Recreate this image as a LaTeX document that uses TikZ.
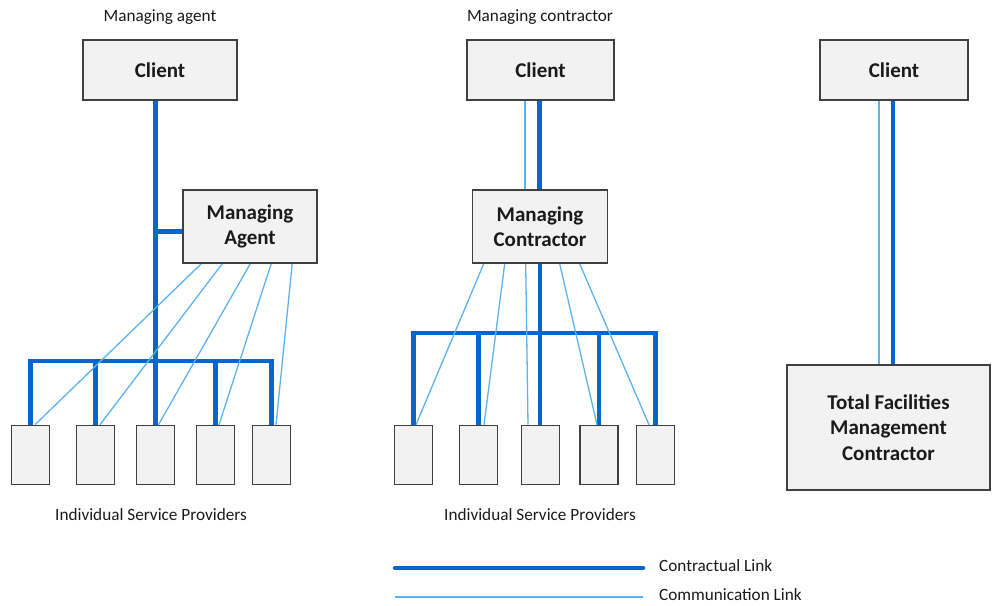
\documentclass[tikz,border=0pt]{standalone}
\usepackage{fontspec}
\setmainfont{Carlito}
\usetikzlibrary{calc,backgrounds}
\definecolor{cblue}{RGB}{6,102,204}
\definecolor{lblue}{RGB}{95,178,240}
\definecolor{boxfill}{RGB}{242,242,242}
\definecolor{boxline}{RGB}{64,64,64}
\definecolor{txt}{RGB}{26,26,26}
\begin{document}
\begin{tikzpicture}[x=1pt,y=-1pt,
 box/.style={draw=boxline,fill=boxfill,line width=1.6pt,inner sep=0pt,align=center,text=txt,font=\fontsize{21}{25.5}\selectfont\bfseries},
 prov/.style={draw=boxline,fill=boxfill,line width=1.6pt,minimum width=38pt,minimum height=59pt,inner sep=0pt},
 contract/.style={draw=cblue,line width=4.5pt},
 comm/.style={draw=lblue,line width=1.3pt},
 lab/.style={font=\fontsize{17.2}{20}\selectfont,text=txt,inner sep=1pt}]
\useasboundingbox (0,0) rectangle (993,605);
% ---------- panel 1 ----------
\node[lab] (t1) at (160,17) {Managing agent};
\node[box,minimum width=154pt,minimum height=60pt] (c1) at (160,70) {Client};
\node[box,minimum width=134pt,minimum height=73pt] (ma) at (250,226.5) {Managing\\Agent};
\foreach \i/\x in {1/30.5,2/95.5,3/155.5,4/215.5,5/271.5}
  \node[prov] (p1\i) at (\x,455) {};
\node[lab] (isp1) at (151,515) {Individual Service Providers};
\coordinate (bus1) at (0,361);
% ---------- panel 2 ----------
\node[lab] (t2) at (540,17) {Managing contractor};
\node[box,minimum width=147pt,minimum height=60pt] (c2) at (540.5,70) {Client};
\node[box,minimum width=135pt,minimum height=73pt] (mc) at (540,226.5) {Managing\\Contractor};
\foreach \i/\x in {1/413.5,2/478.5,3/540.5,4/599,5/655.5}
  \node[prov] (p2\i) at (\x,455) {};
\node[lab] (isp2) at (540,515) {Individual Service Providers};
\coordinate (bus2) at (0,333);
% ---------- panel 3 ----------
\node[box,minimum width=148pt,minimum height=60pt] (c3) at (894,70) {Client};
\node[box,minimum width=203pt,minimum height=125pt] (tf) at (888.5,427.5) {Total Facilities\\Management\\Contractor};
% ---------- legend ----------
\coordinate (l1a) at (395,568);
\coordinate (l1b) at (643,568);
\coordinate (l2a) at (395,597);
\coordinate (l2b) at (643,597);
\node[lab,anchor=west] (lc) at (658,566) {Contractual Link};
\node[lab,anchor=west] (lm) at (658,594.5) {Communication Link};
\draw[contract,line cap=round] (l1a) -- (l1b);
\draw[comm] (l2a) -- (l2b);
% ---------- connectors ----------
\begin{scope}[on background layer]
  % panel 1
  \draw[contract] ([xshift=-4.5pt]c1.south) -- ([xshift=-4.5pt]c1.south |- p13.north);
  \draw[contract] ([xshift=-4.5pt]c1.south |- ma.west) ++(0,5) coordinate (j1) -- (j1 -| ma.west);
  \draw[contract,line join=miter] (p11.north) -- (p11.north |- bus1) -- (p15.north |- bus1) -- (p15.north);
  \draw[contract] (p12.north) -- (p12.north |- bus1);
  \draw[contract] (p14.north) -- (p14.north |- bus1);
  \draw[comm] ([xshift=19pt]ma.south west) -- ([xshift=4.5pt]p11.north);
  \draw[comm] ([xshift=40pt]ma.south west) -- ([xshift=4.5pt]p12.north);
  \draw[comm] ([xshift=68pt]ma.south west) -- ([xshift=3pt]p13.north);
  \draw[comm] ([xshift=89pt]ma.south west) -- ([xshift=3.5pt]p14.north);
  \draw[comm] ([xshift=110pt]ma.south west) -- ([xshift=4.5pt]p15.north);
  % panel 2
  \draw[contract] ([xshift=-1pt]c2.south) -- ([xshift=-1pt]c2.south |- mc.north);
  \draw[comm] ([xshift=-15.5pt]c2.south) -- ([xshift=-15.5pt]c2.south |- mc.north);
  \draw[contract] (mc.south) -- (mc.south |- p23.north);
  \draw[contract,line join=miter] (p21.north) -- (p21.north |- bus2) -- (p25.north |- bus2) -- (p25.north);
  \draw[contract] (p22.north) -- (p22.north |- bus2);
  \draw[contract] (p24.north) -- (p24.north |- bus2);
  \draw[comm] ([xshift=12pt]mc.south west) -- ([xshift=2.5pt]p21.north);
  \draw[comm] ([xshift=33pt]mc.south west) -- ([xshift=5.5pt]p22.north);
  \draw[comm] ([xshift=54pt]mc.south west) -- ([xshift=-12.5pt]p23.north);
  \draw[comm] ([xshift=88pt]mc.south west) -- ([xshift=-2pt]p24.north);
  \draw[comm] ([xshift=108pt]mc.south west) -- ([xshift=-6.5pt]p25.north);
  % panel 3
  \draw[contract] ([xshift=-1pt]c3.south) -- ([xshift=-1pt]c3.south |- tf.north);
  \draw[comm] ([xshift=-15pt]c3.south) -- ([xshift=-15pt]c3.south |- tf.north);
\end{scope}
\end{tikzpicture}
\end{document}
